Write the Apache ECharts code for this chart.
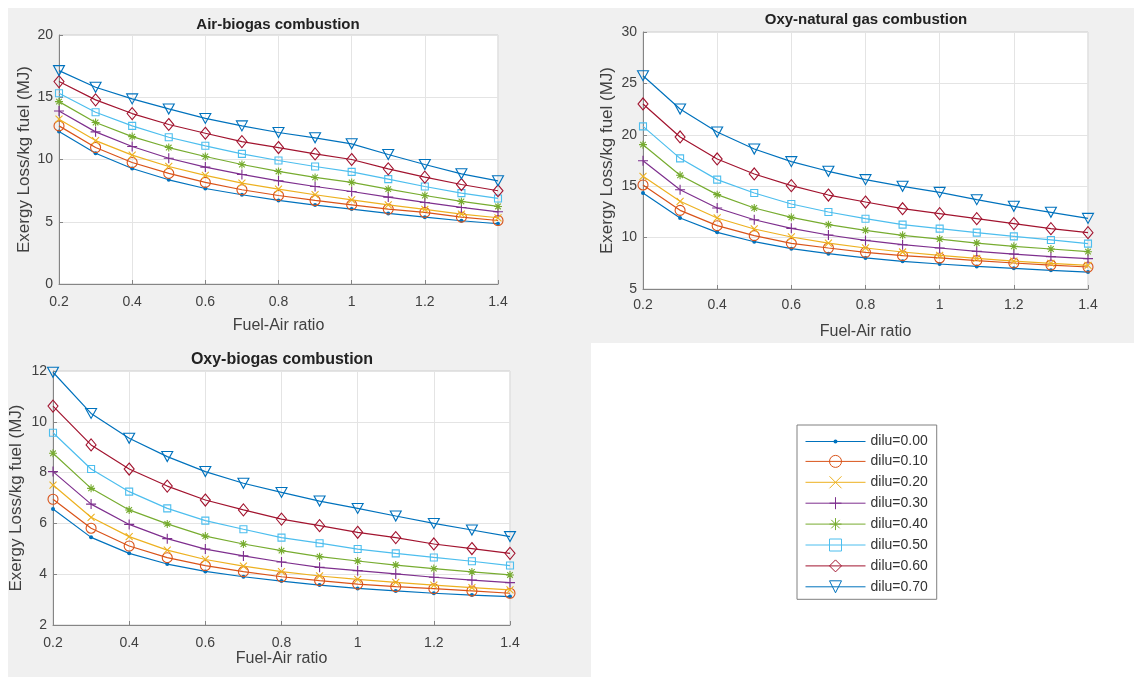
<!DOCTYPE html>
<html>
<head>
<meta charset="utf-8">
<script src="https://cdn.jsdelivr.net/npm/echarts@6/dist/echarts.min.js"></script>
<style>
html,body{margin:0;padding:0;background:#fff;}
#chart{width:1134px;height:677px;}
</style>
</head>
<body>
<div id="chart"></div>
<script>
// ---- data ----
const fuelAir = [0.2,0.3,0.4,0.5,0.6,0.7,0.8,0.9,1.0,1.1,1.2,1.3,1.4];
const seriesNames = ['dilu=0.00','dilu=0.10','dilu=0.20','dilu=0.30','dilu=0.40','dilu=0.50','dilu=0.60','dilu=0.70'];
const titles = ['Air-biogas combustion','Oxy-natural gas combustion','Oxy-biogas combustion'];
const xName = 'Fuel-Air ratio';
const yName = 'Exergy Loss/kg fuel (MJ)';

// Air-biogas
const airBiogas00 = [12.25,10.5,9.28,8.37,7.67,7.17,6.71,6.34,6.02,5.67,5.37,5.08,4.84];
const airBiogas10 = [12.7,10.96,9.76,8.88,8.16,7.57,7.11,6.71,6.36,6.02,5.75,5.37,5.1];
const airBiogas20 = [13.24,11.52,10.35,9.44,8.72,8.1,7.62,7.17,6.76,6.36,5.99,5.61,5.32];
const airBiogas30 = [13.9,12.22,11.04,10.1,9.39,8.8,8.29,7.83,7.43,6.98,6.55,6.15,5.8];
const airBiogas40 = [14.65,12.97,11.84,10.96,10.24,9.6,9.04,8.56,8.16,7.62,7.11,6.63,6.23];
const airBiogas50 = [15.32,13.8,12.7,11.79,11.1,10.45,9.92,9.44,9.01,8.42,7.83,7.3,6.87];
const airBiogas60 = [16.26,14.79,13.69,12.81,12.11,11.44,10.96,10.45,10.0,9.25,8.58,7.99,7.49];
const airBiogas70 = [17.14,15.8,14.87,14.06,13.3,12.7,12.17,11.74,11.26,10.4,9.6,8.85,8.29];

// Oxy-natural gas
const oxyNg00 = [14.34,11.91,10.51,9.6,8.92,8.44,8.02,7.69,7.43,7.2,7.01,6.82,6.65];
const oxyNg10 = [15.12,12.65,11.16,10.19,9.44,8.99,8.57,8.24,8.02,7.76,7.53,7.33,7.14];
const oxyNg20 = [15.96,13.53,11.91,10.84,10.06,9.47,8.99,8.6,8.27,7.98,7.72,7.5,7.3];
const oxyNg30 = [17.48,14.66,12.88,11.74,10.9,10.25,9.73,9.31,8.99,8.66,8.4,8.15,7.95];
const oxyNg40 = [19.04,16.06,14.18,12.88,11.97,11.26,10.71,10.22,9.86,9.47,9.15,8.89,8.63];
const oxyNg50 = [20.82,17.71,15.64,14.34,13.27,12.49,11.84,11.26,10.87,10.48,10.12,9.77,9.41];
const oxyNg60 = [23.0,19.79,17.65,16.19,15.05,14.14,13.46,12.81,12.33,11.84,11.36,10.87,10.48];
const oxyNg70 = [25.75,22.51,20.27,18.62,17.39,16.45,15.64,14.99,14.4,13.69,13.04,12.46,11.87];

// Oxy-biogas
const oxyBiogas00 = [6.57,5.45,4.82,4.4,4.11,3.9,3.73,3.57,3.44,3.34,3.25,3.18,3.12];
const oxyBiogas10 = [6.95,5.81,5.11,4.65,4.34,4.1,3.9,3.75,3.61,3.51,3.43,3.34,3.25];
const oxyBiogas20 = [7.51,6.24,5.48,4.95,4.58,4.32,4.1,3.93,3.8,3.68,3.57,3.47,3.38];
const oxyBiogas30 = [8.04,6.76,5.96,5.4,4.99,4.72,4.48,4.27,4.14,4.01,3.88,3.77,3.67];
const oxyBiogas40 = [8.76,7.38,6.53,5.98,5.5,5.19,4.93,4.69,4.52,4.36,4.22,4.09,3.97];
const oxyBiogas50 = [9.57,8.14,7.25,6.59,6.11,5.77,5.44,5.22,4.99,4.82,4.66,4.51,4.34];
const oxyBiogas60 = [10.62,9.09,8.14,7.47,6.92,6.53,6.17,5.91,5.65,5.44,5.19,5.01,4.82];
const oxyBiogas70 = [11.95,10.33,9.35,8.63,8.04,7.58,7.22,6.88,6.59,6.29,6.0,5.74,5.48];

const panelData = [
  [airBiogas00,airBiogas10,airBiogas20,airBiogas30,airBiogas40,airBiogas50,airBiogas60,airBiogas70],
  [oxyNg00,oxyNg10,oxyNg20,oxyNg30,oxyNg40,oxyNg50,oxyNg60,oxyNg70],
  [oxyBiogas00,oxyBiogas10,oxyBiogas20,oxyBiogas30,oxyBiogas40,oxyBiogas50,oxyBiogas60,oxyBiogas70]
];
const yMin = [0,5,2], yMax = [20,30,12], yStep = [5,5,2];

// ---- styles ----
const colors = ['#0072BD','#D95319','#EDB120','#7E2F8E','#77AC30','#4DBEEE','#A2142F','#0072BD'];
const markers = [
  {symbol:'circle', size:4, filled:true},
  {symbol:'circle', size:10},
  {symbol:'path://M0,0L10,10M10,0L0,10', size:7},
  {symbol:'path://M5,0L5,10M0,5L10,5', size:10},
  {symbol:'path://M5,0L5,10M0,5L10,5M1.5,1.5L8.5,8.5M8.5,1.5L1.5,8.5', size:8},
  {symbol:'rect', size:7},
  {symbol:'diamond', size:[10,12]},
  {symbol:'path://M0,0L10,0L5,9Z', size:[11,10]}
];
// legend icon for the small-dot series (line + small dot)
const dotLegendIcon = 'path://M0,6.9L28.2,6.9L28.2,8.1L0,8.1Z M31.8,6.9L60,6.9L60,8.1L31.8,8.1Z M28,7.5A2,2 0 1 1 32,7.5A2,2 0 1 1 28,7.5Z';
const grids = [
  {left:59, top:35, width:439, height:249},
  {left:643, top:32, width:445, height:257},
  {left:53, top:371, width:457, height:254}
];
const titlePos = [{x:278, y:17, fs:15},{x:866, y:12, fs:15},{x:282, y:352, fs:16}];
const yNameGap = [26,27,28];
const xNameGap = [34,35,25];
const labelColor = '#404040';
const axisColor = '#858585';
const font = 'Arial, "Liberation Sans", Helvetica, sans-serif';

const option = {
  animation:false,
  backgroundColor:'#ffffff',
  textStyle:{fontFamily:font},
  graphic:[
    {type:'rect', z:-10, silent:true, shape:{x:8,y:8,width:1126,height:335}, style:{fill:'#f0f0f0'}},
    {type:'rect', z:-10, silent:true, shape:{x:8,y:343,width:583,height:334}, style:{fill:'#f0f0f0'}}
  ],
  title: titles.map((t,i)=>({
    text:t, left:titlePos[i].x, top:titlePos[i].y, textAlign:'center', padding:0,
    textStyle:{fontSize:titlePos[i].fs, fontWeight:'bold', color:'#222', fontFamily:font}
  })),
  legend:{
    orient:'vertical', left:797, top:425,
    data: seriesNames.map((n,i)=> i===0 ? {name:n, icon:dotLegendIcon, itemStyle:{color:colors[0], borderWidth:0}} : {name:n}),
    itemWidth:60, itemHeight:15, itemGap:3.9,
    padding:[9,9,4,8],
    symbolKeepAspect:true,
    lineStyle:{width:1},
    itemStyle:{borderWidth:1},
    backgroundColor:'#ffffff', borderColor:'#808080', borderWidth:1, borderRadius:0,
    textStyle:{fontSize:14, lineHeight:15, color:'#333', fontFamily:font}
  },
  grid: grids.map(g=>Object.assign({show:true, backgroundColor:'#ffffff', borderColor:'#cfcfcf', borderWidth:1, containLabel:false}, g)),
  xAxis: grids.map((g,i)=>({
    type:'value', gridIndex:i, min:0.2, max:1.4, interval:0.2,
    name:xName, nameLocation:'middle', nameGap:xNameGap[i],
    nameTextStyle:{fontSize:16, color:labelColor, verticalAlign:'top', fontFamily:font},
    axisLine:{show:true, onZero:false, lineStyle:{color:axisColor, width:1}},
    axisTick:{show:true, inside:true, length:4, lineStyle:{color:axisColor}},
    axisLabel:{fontSize:14, color:labelColor, margin:i===1?9:11, fontFamily:font},
    splitLine:{show:true, lineStyle:{color:'#e4e4e4', width:1}}
  })),
  yAxis: grids.map((g,i)=>({
    type:'value', gridIndex:i, min:yMin[i], max:yMax[i], interval:yStep[i],
    name:yName, nameLocation:'middle', nameGap:yNameGap[i], nameRotate:90,
    nameTextStyle:{fontSize:17, color:labelColor, fontFamily:font},
    axisLine:{show:true, onZero:false, lineStyle:{color:axisColor, width:1}},
    axisTick:{show:true, inside:true, length:4, lineStyle:{color:axisColor}},
    axisLabel:{fontSize:14, color:labelColor, margin:6, fontFamily:font},
    splitLine:{show:true, lineStyle:{color:'#e4e4e4', width:1}}
  })),
  series:[]
};

panelData.forEach((panel,pi)=>{
  panel.forEach((vals,si)=>{
    const m = markers[si];
    option.series.push({
      type:'line', name:seriesNames[si], xAxisIndex:pi, yAxisIndex:pi,
      data: fuelAir.map((x,k)=>[x, vals[k]]),
      symbol:m.symbol, symbolSize:m.size, showSymbol:true,
      lineStyle:{color:colors[si], width:1.2},
      itemStyle: m.filled ? {color:colors[si], borderColor:colors[si], borderWidth:0}
                          : {color:'none', borderColor:colors[si], borderWidth:1.1},
      emphasis:{disabled:true},
      z:2+si
    });
  });
});

const chart = echarts.init(document.getElementById('chart'), null, {renderer:'canvas'});
chart.setOption(option);
</script>
</body>
</html>
